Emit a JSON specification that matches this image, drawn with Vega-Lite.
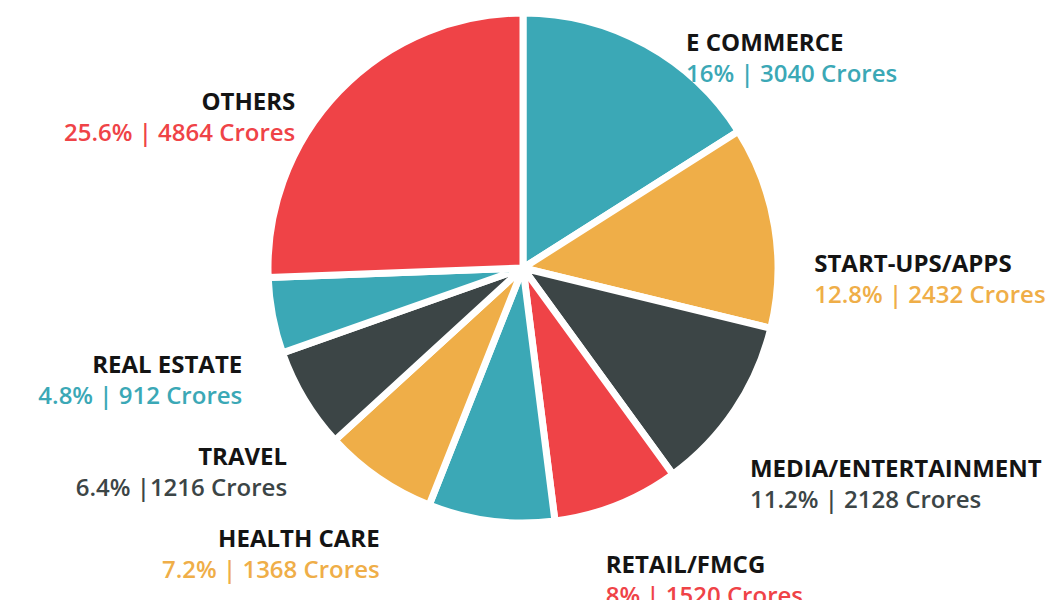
{
  "$schema": "https://vega.github.io/schema/vega-lite/v6.json",
  "autosize": "none",
  "width": 1046,
  "height": 536,
  "padding": {"left": 0, "top": 0, "right": 4, "bottom": 64},
  "background": "white",
  "config": {"view": {"stroke": null}},
  "data": {
    "values": [
      {"rank": 1, "sector": "E COMMERCE", "label": "E COMMERCE", "pct": 16, "crores": 3040, "detail": "16% | 3040 Crores"},
      {"rank": 2, "sector": "START-UPS/APPS", "label": "START-UPS/APPS", "pct": 12.8, "crores": 2432, "detail": "12.8% | 2432 Crores"},
      {"rank": 3, "sector": "MEDIA/ENTERTAINMENT", "label": "MEDIA/ENTERTAINMENT", "pct": 11.2, "crores": 2128, "detail": "11.2% | 2128 Crores"},
      {"rank": 4, "sector": "RETAIL/FMCG", "label": "RETAIL/FMCG", "pct": 8, "crores": 1520, "detail": "8% | 1520 Crores"},
      {"rank": 5, "sector": "(unlabelled)", "label": "", "pct": 8, "crores": 1520, "detail": ""},
      {"rank": 6, "sector": "HEALTH CARE", "label": "HEALTH CARE", "pct": 7.2, "crores": 1368, "detail": "7.2% | 1368 Crores"},
      {"rank": 7, "sector": "TRAVEL", "label": "TRAVEL", "pct": 6.4, "crores": 1216, "detail": "6.4% |1216 Crores"},
      {"rank": 8, "sector": "REAL ESTATE", "label": "REAL ESTATE", "pct": 4.8, "crores": 912, "detail": "4.8% | 912 Crores"},
      {"rank": 9, "sector": "OTHERS", "label": "OTHERS", "pct": 25.6, "crores": 4864, "detail": "25.6% | 4864 Crores"}
    ]
  },
  "encoding": {
    "theta": {"field": "pct", "type": "quantitative", "stack": true},
    "order": {"field": "rank", "type": "quantitative"},
    "color": {
      "field": "sector",
      "type": "nominal",
      "legend": null,
      "scale": {
        "domain": ["E COMMERCE", "START-UPS/APPS", "MEDIA/ENTERTAINMENT", "RETAIL/FMCG", "(unlabelled)", "HEALTH CARE", "TRAVEL", "REAL ESTATE", "OTHERS"],
        "range": ["#3ba8b6", "#efae48", "#3c4546", "#ef4347", "#3ba8b6", "#efae48", "#3c4546", "#3ba8b6", "#ef4347"]
      }
    }
  },
  "layer": [
    {
      "mark": {"type": "arc", "outerRadius": 255, "stroke": "white", "strokeWidth": 7, "strokeJoin": "round"}
    },
    {
      "mark": {
        "type": "text",
        "radius": 292,
        "dy": 18,
        "thetaOffset": {"expr": "datum.pct_start + datum.pct_end < 100 ? 0.09 : -0.09"},
        "font": "Open Sans",
        "fontWeight": "bold",
        "fontSize": 24,
        "align": {"expr": "datum.pct_start + datum.pct_end < 100 ? 'left' : 'right'"}
      },
      "encoding": {
        "text": {"field": "label"},
        "color": {"value": "#141414"}
      }
    },
    {
      "mark": {
        "type": "text",
        "radius": 292,
        "dy": 49,
        "thetaOffset": {"expr": "datum.pct_start + datum.pct_end < 100 ? 0.09 : -0.09"},
        "font": "Open Sans",
        "fontWeight": 600,
        "fontSize": 24,
        "align": {"expr": "datum.pct_start + datum.pct_end < 100 ? 'left' : 'right'"}
      },
      "encoding": {
        "text": {"field": "detail"}
      }
    }
  ]
}
